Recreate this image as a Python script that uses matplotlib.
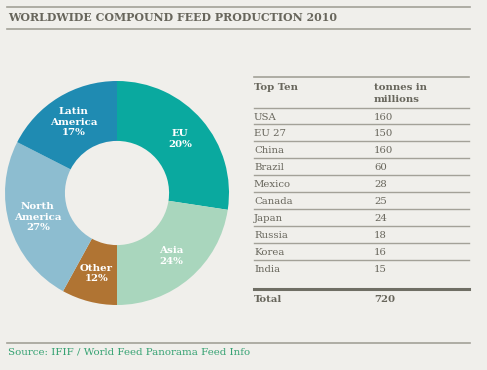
import matplotlib
matplotlib.use("Agg")
import matplotlib.pyplot as plt
import numpy as np

# Donut: regions in drawing order (clockwise from 12 o'clock)
regions = ["EU", "Asia", "Other", "North\nAmerica", "Latin\nAmerica"]
region_pct = ["20%", "24%", "12%", "27%", "17%"]          # printed labels
region_share = [27.4, 22.6, 8.0, 24.5, 17.5]               # wedge sizes as drawn
region_colors = ["#0aa99f", "#a9d6bd", "#b07433", "#8dbdd0", "#1f8bb2"]

# Table
countries = ["USA", "EU 27", "China", "Brazil", "Mexico", "Canada",
             "Japan", "Russia", "Korea", "India"]
tonnes = [160, 150, 160, 60, 28, 25, 24, 18, 16, 15]
total = 720

bg = "#f0efeb"
txt = "#68665c"
rule = "#a3a198"
serif = "DejaVu Serif"

fig = plt.figure(figsize=(4.87, 3.70), dpi=100, facecolor=bg)

# overlay axes in pixel coordinates for text and rules
ov = fig.add_axes([0, 0, 1, 1])
ov.set_xlim(0, 487)
ov.set_ylim(370, 0)
ov.axis("off")
ov.patch.set_alpha(0)

# title block
ov.plot([7, 470], [7, 7], color=rule, lw=1.2)
ov.text(8, 17.5, "WORLDWIDE COMPOUND FEED PRODUCTION 2010", family=serif,
        weight="bold", fontsize=7.9, color=txt, va="center", ha="left")
ov.plot([7, 470], [29, 29], color=rule, lw=1.2)

# table
x1, x2, xr = 254, 374, 469
ov.plot([x1, xr], [77, 77], color=rule, lw=1.2)
ov.text(x1, 87, "Top Ten", family=serif, weight="bold", fontsize=7.3,
        color=txt, va="center")
ov.text(x2, 87, "tonnes in", family=serif, weight="bold", fontsize=7.3,
        color=txt, va="center")
ov.text(x2, 100, "millions", family=serif, weight="bold", fontsize=7.3,
        color=txt, va="center")
ov.plot([x1, xr], [108, 108], color=rule, lw=1.0)
row_h = 16.9
for i, (c, t) in enumerate(zip(countries, tonnes)):
    y = 117 + i * row_h
    ov.text(x1, y, c, family=serif, fontsize=7.3, color=txt, va="center")
    ov.text(x2, y, str(t), family=serif, fontsize=7.3, color=txt, va="center")
    if i < len(countries) - 1:
        ov.plot([x1, xr], [y + 7.3, y + 7.3], color=rule, lw=1.0)
ov.plot([x1, xr], [289, 289], color="#6f6e64", lw=2.2)
ov.text(x1, 299, "Total", family=serif, weight="bold", fontsize=7.3,
        color=txt, va="center")
ov.text(x2, 299, str(total), family=serif, weight="bold", fontsize=7.3,
        color=txt, va="center")

# source
ov.plot([7, 470], [343, 343], color=rule, lw=1.2)
ov.text(8, 352, "Source: IFIF / World Feed Panorama Feed Info", family=serif,
        fontsize=7.4, color="#35a272", va="center")

# donut
cx, cy, r = 117, 193, 112
pie_ax = fig.add_axes([(cx - r) / 487, (370 - cy - r) / 370,
                       2 * r / 487, 2 * r / 370])
wedges, _ = pie_ax.pie(region_share, colors=region_colors, startangle=90,
                       counterclock=False,
                       wedgeprops=dict(width=0.535, linewidth=0))
pie_ax.set_xlim(-1, 1)
pie_ax.set_ylim(-1, 1)
pie_ax.axis("off")
for w, name, pct in zip(wedges, regions, region_pct):
    ang = np.deg2rad((w.theta1 + w.theta2) / 2)
    pie_ax.text(0.74 * np.cos(ang), 0.74 * np.sin(ang), name + "\n" + pct,
                ha="center", va="center", family=serif, weight="bold",
                fontsize=7.4, color="white", linespacing=1.2)

fig.savefig("out.png", dpi=100, facecolor=bg)
